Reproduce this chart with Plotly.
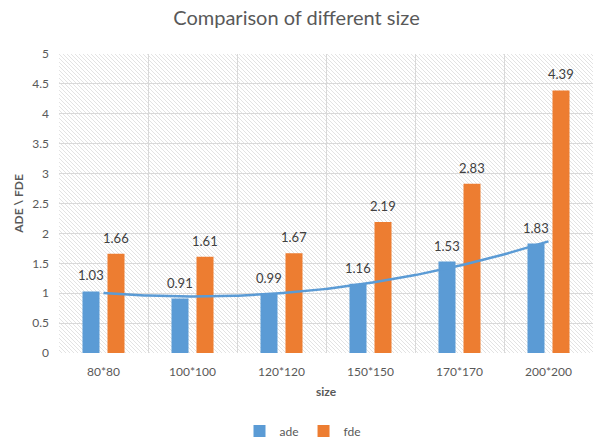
import base64
import numpy as np
import plotly.graph_objects as go

categories = ["80*80", "100*100", "120*120", "150*150", "170*170", "200*200"]
ade = [1.03, 0.91, 0.99, 1.16, 1.53, 1.83]
fde = [1.66, 1.61, 1.67, 2.19, 2.83, 4.39]
y_ticks = [0, 0.5, 1, 1.5, 2, 2.5, 3, 3.5, 4, 4.5, 5]

BLUE = "#5B9BD5"
ORANGE = "#ED7D31"
TXT = "#595959"
FONT = "Lato"

BARGAP = 0.438
GROUPGAP = 0.32
slot = (1 - BARGAP) / 2
off = slot / 2

fig = go.Figure()
fig.add_trace(go.Bar(name="ade", x=categories, y=ade, marker=dict(color=BLUE, line=dict(width=0))))
fig.add_trace(go.Bar(name="fde", x=categories, y=fde, marker=dict(color=ORANGE, line=dict(width=0))))

# polynomial (order 2) trendline for ade, like Excel
xi = np.arange(len(ade))
coef = np.polyfit(xi, ade, 2)
xs = np.linspace(0, len(ade) - 1, 120)
fig.add_trace(go.Scatter(x=xs, y=np.polyval(coef, xs), xaxis="x2", mode="lines",
                         line=dict(color=BLUE, width=2.5), showlegend=False, hoverinfo="skip"))

# data labels
for i, (a, f) in enumerate(zip(ade, fde)):
    fig.add_annotation(x=i - off, y=a, xref="x2", yref="y", text=f"{a:.2f}", showarrow=False,
                       yanchor="bottom", yshift=6, font=dict(family=FONT, size=13, color="#404040"))
    fig.add_annotation(x=i + off, y=f, xref="x2", yref="y", text=f"{f:.2f}", showarrow=False,
                       yanchor="bottom", yshift=6, font=dict(family=FONT, size=13, color="#404040"))

# hatched plot-area background (Excel pattern fill)
W, H = 534, 299
svg = (f'<svg xmlns="http://www.w3.org/2000/svg" width="{W}" height="{H}" viewBox="0 0 {W} {H}" preserveAspectRatio="none">'
       '<defs><pattern id="p" width="4" height="4" patternUnits="userSpaceOnUse">'
       '<path d="M-1,-1 L5,5 M3,-1 L5,1 M-1,3 L1,5" stroke="#e0e0e0" stroke-width="0.9"/>'
       '</pattern></defs>'
       f'<rect width="{W}" height="{H}" fill="url(#p)"/></svg>')
uri = "data:image/svg+xml;base64," + base64.b64encode(svg.encode()).decode()
fig.add_layout_image(source=uri, xref="paper", yref="paper", x=0, y=1, sizex=1, sizey=1,
                     xanchor="left", yanchor="top", sizing="stretch", layer="below")

fig.update_layout(
    width=593, height=439,
    margin=dict(l=59, r=0, t=54, b=86),
    paper_bgcolor="white", plot_bgcolor="white",
    barmode="group", bargap=BARGAP, bargroupgap=GROUPGAP,
    font=dict(family=FONT, size=12, color=TXT),
    title=dict(text="Comparison of different size", x=0.5, xref="container", xanchor="center",
               y=1 - 18 / 439, yref="container", yanchor="middle",
               font=dict(family=FONT, size=20, color=TXT)),
    xaxis=dict(type="category", tickson="boundaries", showgrid=True, gridcolor="#d9d9d9",
               gridwidth=1, showline=False, zeroline=False, ticks="",
               ticklabelstandoff=10, tickfont=dict(size=12, color=TXT),
               title=dict(text="<b>size</b>", font=dict(size=12, color=TXT), standoff=9)),
    xaxis2=dict(overlaying="x", range=[-0.5, len(categories) - 0.5], visible=False),
    yaxis=dict(range=[0, 5], tickvals=y_ticks, showgrid=True, gridcolor="#d9d9d9", gridwidth=1,
               zeroline=False, showline=False, ticks="", ticklabelstandoff=9,
               tickfont=dict(size=12, color=TXT),
               title=dict(text="<b>ADE \\ FDE</b>", font=dict(size=12, color=TXT), standoff=6)),
    legend=dict(orientation="h", x=303 / 593, xref="container", xanchor="center",
                y=1 - 431 / 439, yref="container", yanchor="middle",
                font=dict(size=12, color=TXT), itemwidth=30, tracegroupgap=0),
    showlegend=True,
)

fig.write_html("out.html")
